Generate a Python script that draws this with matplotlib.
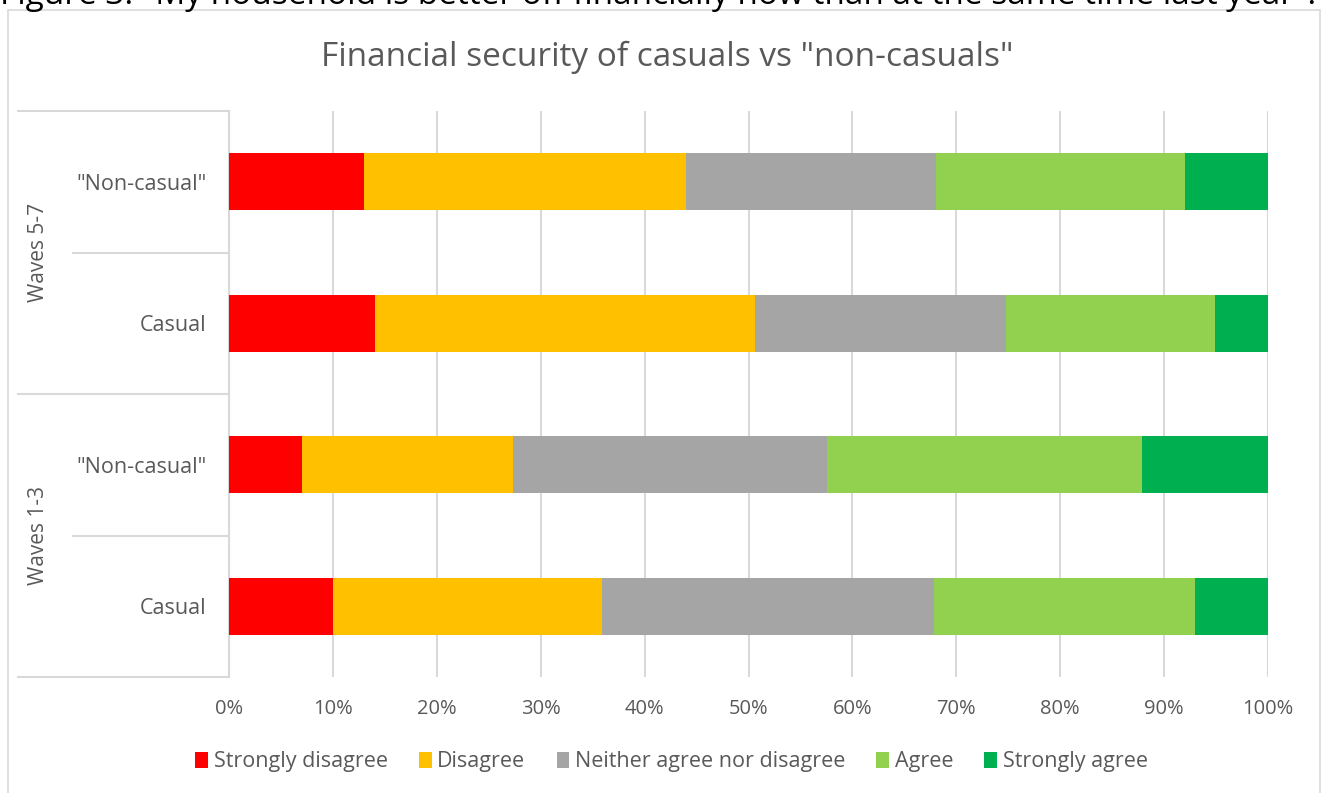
import matplotlib
matplotlib.use('agg')
import matplotlib.pyplot as plt
import numpy as np

# rows from bottom to top
row_labels = ['Casual', '"Non-casual"', 'Casual', '"Non-casual"']
group_labels = ['Waves 1-3', 'Waves 5-7']
categories = ['Strongly disagree', 'Disagree', 'Neither agree nor disagree',
              'Agree', 'Strongly agree']
colors = ['#ff0000', '#ffc000', '#a5a5a5', '#92d050', '#00b050']

strongly_disagree = [10.0, 7.0, 14.1, 13.0]
disagree = [25.9, 20.3, 36.5, 31.0]
neither = [32.0, 30.3, 24.2, 24.0]
agree = [25.1, 30.3, 20.1, 24.0]
strongly_agree = [7.0, 12.1, 5.1, 8.0]

x_ticks = [0, 10, 20, 30, 40, 50, 60, 70, 80, 90, 100]

TXT = '#595959'
GRID = '#d9d9d9'
FONT = 'Open Sans'


def main():
    plt.rcParams['font.family'] = [FONT, 'DejaVu Sans']
    fig = plt.figure(figsize=(13.22, 7.93), dpi=100)
    W, H = 1322.0, 793.0

    # outer chart border
    fig.patches.append(plt.Rectangle((8 / W, -0.01), (1320 - 8) / W, 1 - 10 / H + 0.01,
                                     transform=fig.transFigure, fill=False,
                                     edgecolor=GRID, lw=1.2))

    # caption line, cut at the top edge as in the source
    fig.text(0.0, 1 - 4 / H,
             'Figure 3: "My household is better off financially now than at the same time last year".',
             fontsize=24, color='#000000', va='baseline', ha='left')

    ax = fig.add_axes([229 / W, 1 - 677 / H, (1268 - 229) / W, (677 - 111) / H])

    series = [strongly_disagree, disagree, neither, agree, strongly_agree]
    y = np.arange(len(row_labels))
    left = np.zeros(len(row_labels))
    for name, vals, c in zip(categories, series, colors):
        ax.barh(y, vals, left=left, height=0.4, color=c, label=name, zorder=3)
        left = left + np.array(vals)

    ax.set_xlim(0, 100)
    ax.set_ylim(-0.5, 3.5)
    ax.set_xticks(x_ticks)
    ax.set_xticklabels(['{}%'.format(t) for t in x_ticks])
    ax.set_yticks(y)
    ax.set_yticklabels(row_labels)
    ax.tick_params(axis='both', length=0, colors=TXT)
    ax.tick_params(axis='x', labelsize=14.5, pad=16)
    ax.tick_params(axis='y', labelsize=15.5, pad=16)
    ax.grid(axis='x', color=GRID, lw=1.5, zorder=0)
    for s in ['top', 'right', 'bottom']:
        ax.spines[s].set_visible(False)
    ax.spines['left'].set_color(GRID)
    ax.spines['left'].set_linewidth(1.5)

    # category group separators in the label area
    tr = ax.get_yaxis_transform()
    x_full = (18 - 229) / (1268 - 229)
    x_short = (73 - 229) / (1268 - 229)
    for yy in [-0.5, 1.5, 3.5]:
        ax.plot([x_full, 0], [yy, yy], color=GRID, lw=1.5, transform=tr, clip_on=False)
    for yy in [0.5, 2.5]:
        ax.plot([x_short, 0], [yy, yy], color=GRID, lw=1.5, transform=tr, clip_on=False)
    for i, g in enumerate(group_labels):
        ax.text((38 - 229) / (1268 - 229), 2 * i + 0.5, g, transform=tr, rotation=90,
                ha='center', va='center', fontsize=15, color=TXT)

    fig.text(0.505, 1 - 57 / H, 'Financial security of casuals vs "non-casuals"',
             ha='center', va='center', fontsize=24, color=TXT)

    leg = fig.legend(loc='center', bbox_to_anchor=(0.508, 1 - 762 / H), ncol=5,
                     frameon=False, fontsize=15.5, handlelength=0.6, handleheight=0.7,
                     handletextpad=0.25, columnspacing=1.45)
    for t in leg.get_texts():
        t.set_color(TXT)

    fig.savefig('out.png', dpi=100)


if __name__ == '__main__':
    main()
